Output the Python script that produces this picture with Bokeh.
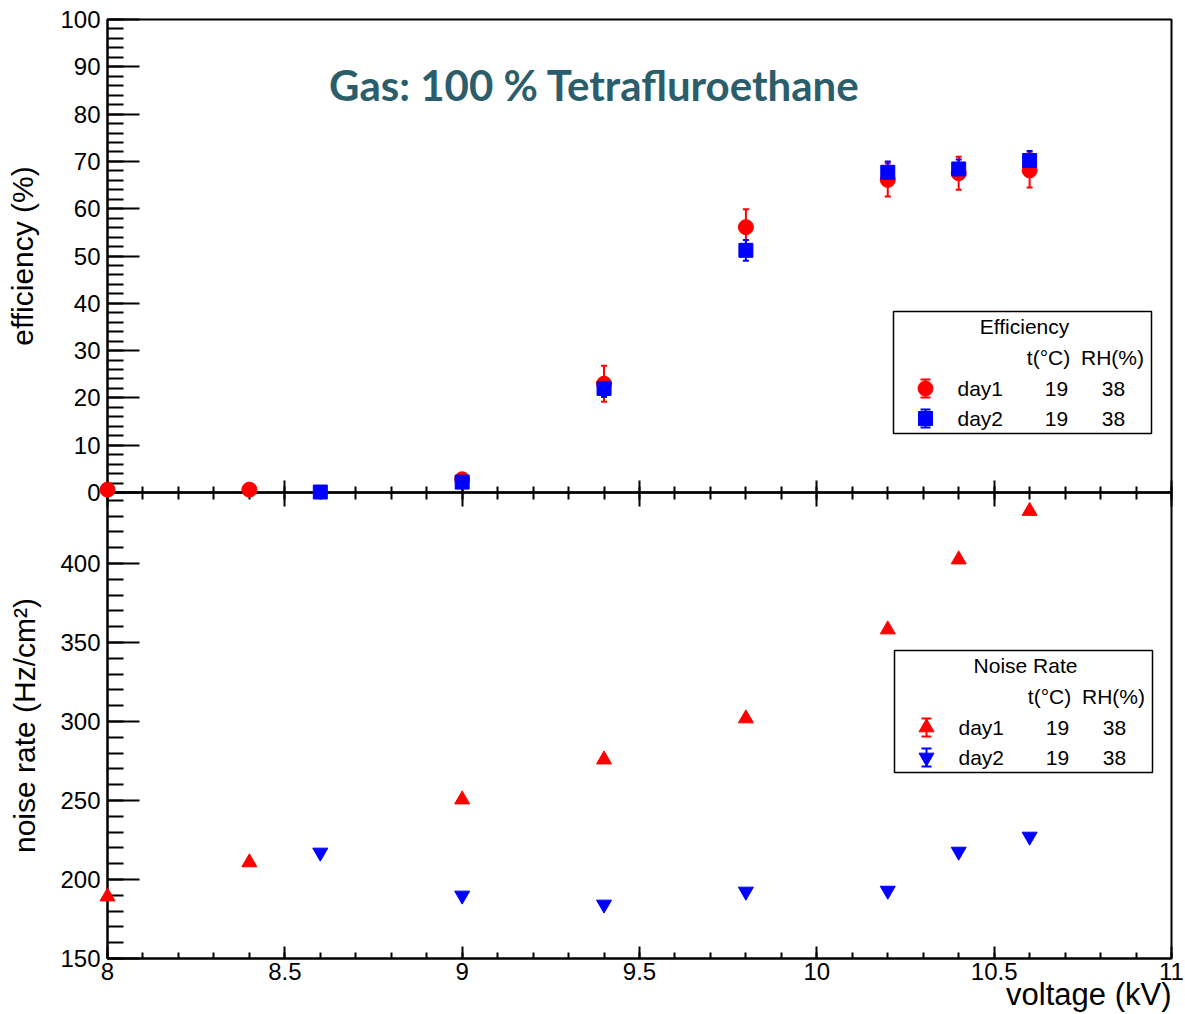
from bokeh.plotting import figure
from bokeh.models import (Range1d, LinearAxis, SingleIntervalTicker, NumeralTickFormatter,
                          CustomJSTickFormatter, ColumnDataSource, Whisker, TeeHead)
from bokeh.embed import file_html
from bokeh.resources import INLINE
from bokeh.core.properties import value

# ---- measurements -------------------------------------------------------
voltage_day1 = [8.0, 8.4, 9.0, 9.4, 9.8, 10.2, 10.4, 10.6]
eff_day1 = [0.6, 0.6, 2.8, 23.0, 56.1, 66.1, 67.5, 68.1]
eff_err_day1 = [0.4, 0.4, 0.6, 3.8, 3.8, 3.5, 3.5, 3.6]
noise_day1 = [189.2, 210.8, 250.6, 275.9, 301.9, 358.2, 402.5, 433.2]

voltage_day2 = [8.6, 9.0, 9.4, 9.8, 10.2, 10.4, 10.6]
eff_day2 = [0.1, 2.2, 22.0, 51.2, 67.7, 68.4, 70.2]
eff_err_day2 = [0.2, 0.5, 1.8, 2.2, 2.3, 2.0, 2.0]
noise_day2 = [217.1, 189.9, 184.2, 192.4, 193.0, 217.7, 227.2]

legend_rows = ["day1", "day2"]
legend_temp = ["19", "19"]
legend_rh = ["38", "38"]

TITLE = "Gas: 100 % Tetrafluroethane"

# ---- page geometry (pixels) --------------------------------------------
W, H = 1185, 1014
LEFT, RIGHT = 107, 1171          # frame left / right
TOP, MID, BOTTOM = 19, 492, 958  # efficiency top, pad split, noise bottom
X0, X1 = 8.0, 11.0
EFF0, EFF1 = 0.0, 100.0
NOISE_LO, NOISE_TICK = 150.0, 400.0
NOISE_TICK_PX = 563

px_per_kv = (RIGHT - LEFT) / (X1 - X0)
px_per_eff = (MID - TOP) / (EFF1 - EFF0)
px_per_noise = (BOTTOM - NOISE_TICK_PX) / (NOISE_TICK - NOISE_LO)
noise_hi = NOISE_LO + (BOTTOM - MID) / px_per_noise

FONT = "Liberation Sans"
RED, BLUE = "#ff0000", "#0000ff"
OVERLAY = {"position": "absolute", "top": "0px", "left": "0px"}


def style_axis(ax, tick_in, minor_in, label_size="24px"):
    ax.axis_line_width = 2
    ax.axis_line_color = "black"
    ax.major_tick_line_width = 2
    ax.minor_tick_line_width = 2
    ax.major_tick_in = tick_in
    ax.major_tick_out = 0
    ax.minor_tick_in = minor_in
    ax.minor_tick_out = 0
    ax.major_label_text_font = FONT
    ax.major_label_text_font_size = label_size
    ax.major_label_text_color = "black"
    ax.axis_label_text_font = FONT
    ax.axis_label_text_font_size = "30px"
    ax.axis_label_text_font_style = "normal"
    ax.axis_label_text_color = "black"


# ---- upper pad: efficiency axis and frame -------------------------------
eff_pad = figure(width=W, height=H, x_range=Range1d(X0, X1), y_range=Range1d(EFF0, EFF1),
                 x_axis_type=None, y_axis_type=None, title=None,
                 output_backend="svg", toolbar_location=None,
                 min_border_left=LEFT, min_border_right=W - RIGHT,
                 min_border_top=TOP, min_border_bottom=H - MID,
                 outline_line_color="black", outline_line_width=2,
                 background_fill_color="white", border_fill_color="white",
                 styles=OVERLAY)
eff_axis = LinearAxis(ticker=SingleIntervalTicker(interval=10, num_minor_ticks=5),
                      axis_label="efficiency (%)")
style_axis(eff_axis, 32, 16)
eff_axis.major_label_standoff = 7
eff_axis.axis_label_standoff = 18
eff_pad.add_layout(eff_axis, "left")

# shared voltage axis between the pads: ticks on both sides, no numbers
mid_axis = LinearAxis(ticker=SingleIntervalTicker(interval=0.5, num_minor_ticks=5),
                      formatter=CustomJSTickFormatter(code="return ''"))
style_axis(mid_axis, 12, 6, label_size="0px")
mid_axis.major_tick_out = 14
mid_axis.minor_tick_out = 7
mid_axis.major_label_standoff = 0
eff_pad.add_layout(mid_axis, "below")

# ---- lower pad: noise axis and voltage axis -----------------------------
noise_pad = figure(width=W, height=H, x_range=Range1d(X0, X1), y_range=Range1d(NOISE_LO, noise_hi),
                   x_axis_type=None, y_axis_type=None, title=None,
                   output_backend="svg", toolbar_location=None,
                   min_border_left=LEFT, min_border_right=W - RIGHT,
                   min_border_top=MID, min_border_bottom=H - BOTTOM,
                   outline_line_color="black", outline_line_width=2,
                   background_fill_color=None, border_fill_color=None,
                   styles=OVERLAY)
noise_axis = LinearAxis(ticker=SingleIntervalTicker(interval=50, num_minor_ticks=5),
                        axis_label="noise rate (Hz/cm²)")
style_axis(noise_axis, 32, 16)
noise_axis.major_label_standoff = 7
noise_axis.axis_label_standoff = 16
noise_pad.add_layout(noise_axis, "left")

volt_axis = LinearAxis(ticker=SingleIntervalTicker(interval=0.5, num_minor_ticks=5),
                       formatter=NumeralTickFormatter(format="0.[0]"))
style_axis(volt_axis, 12, 6)
volt_axis.major_label_standoff = 4
noise_pad.add_layout(volt_axis, "below")

# ---- data layer (frame spans the whole page, so nothing is clipped) -----
data = figure(width=W, height=H,
              x_range=Range1d(X0 - LEFT / px_per_kv, X1 + (W - RIGHT) / px_per_kv),
              y_range=Range1d(EFF0 - (H - MID) / px_per_eff, EFF1 + TOP / px_per_eff),
              x_axis_type=None, y_axis_type=None, title=None,
              output_backend="svg", toolbar_location=None, min_border=0,
              outline_line_color=None, background_fill_color=None, border_fill_color=None,
              styles=OVERLAY)
data.extra_y_ranges = {
    "noise": Range1d(NOISE_LO - (H - BOTTOM) / px_per_noise, NOISE_LO + BOTTOM / px_per_noise),
    "px": Range1d(H, 0),
}
data.extra_x_ranges = {"px": Range1d(0, W)}

src1 = ColumnDataSource(dict(
    v=voltage_day1, eff=eff_day1, noise=noise_day1,
    lo=[e - d for e, d in zip(eff_day1, eff_err_day1)],
    hi=[e + d for e, d in zip(eff_day1, eff_err_day1)]))
src2 = ColumnDataSource(dict(
    v=voltage_day2, eff=eff_day2, noise=noise_day2,
    lo=[e - d for e, d in zip(eff_day2, eff_err_day2)],
    hi=[e + d for e, d in zip(eff_day2, eff_err_day2)]))

for src, col in ((src1, RED), (src2, BLUE)):
    data.add_layout(Whisker(source=src, base="v", lower="lo", upper="hi",
                            line_color=col, line_width=2,
                            upper_head=TeeHead(size=6, line_color=col, line_width=2),
                            lower_head=TeeHead(size=6, line_color=col, line_width=2)))

data.scatter("v", "eff", source=src1, marker="circle", size=15, color=RED)
data.scatter("v", "eff", source=src2, marker="square", size=14, color=BLUE)
data.scatter("v", "noise", source=src1, marker="triangle", size=15, color=RED, y_range_name="noise")
data.scatter("v", "noise", source=src2, marker="inverted_triangle", size=15, color=BLUE,
             y_range_name="noise")

# title
data.text(x=[594], y=[84], text=[TITLE], x_range_name="px", y_range_name="px",
          text_font=value("Lato"), text_font_style="bold", text_font_size="42px",
          text_color="#2b5d6b", text_align="center", text_baseline="middle")

# voltage axis title, right-aligned to the frame
data.text(x=[RIGHT], y=[994], text=["voltage (kV)"], x_range_name="px", y_range_name="px",
          text_font=value(FONT), text_font_size="31px", text_color="black",
          text_align="right", text_baseline="middle")


def legend_box(left, top, header, markers):
    right, bottom = left + 258, top + 122
    data.quad(left=[left], right=[right], top=[top], bottom=[bottom],
              x_range_name="px", y_range_name="px",
              fill_color="white", line_color="black", line_width=1.5)
    kw = dict(x_range_name="px", y_range_name="px", text_font=value(FONT),
              text_font_size="21px", text_color="black", text_baseline="middle")
    data.text(x=[left + 131], y=[top + 15], text=[header], text_align="center", **kw)
    data.text(x=[left + 155, left + 219], y=[top + 46, top + 46],
              text=["t(°C)", "RH(%)"], text_align="center", **kw)
    row_y = [top + 77, top + 107]
    data.text(x=[left + 64] * 2, y=row_y, text=legend_rows, text_align="left", **kw)
    data.text(x=[left + 163] * 2, y=row_y, text=legend_temp, text_align="center", **kw)
    data.text(x=[left + 220] * 2, y=row_y, text=legend_rh, text_align="center", **kw)
    mx = left + 32
    for (marker, col, size), y in zip(markers, row_y):
        data.segment(x0=[mx], y0=[y - 9], x1=[mx], y1=[y + 9], line_color=col, line_width=2,
                     x_range_name="px", y_range_name="px")
        data.segment(x0=[mx - 5, mx - 5], y0=[y - 9, y + 9], x1=[mx + 5, mx + 5], y1=[y - 9, y + 9],
                     line_color=col, line_width=2, x_range_name="px", y_range_name="px")
        data.scatter(x=[mx], y=[y], marker=marker, size=size, color=col,
                     x_range_name="px", y_range_name="px")


legend_box(893, 311, "Efficiency", [("circle", RED, 15), ("square", BLUE, 14)])
legend_box(894, 650, "Noise Rate", [("triangle", RED, 15), ("inverted_triangle", BLUE, 15)])

open("out.html", "w").write(file_html([eff_pad, noise_pad, data], INLINE))
